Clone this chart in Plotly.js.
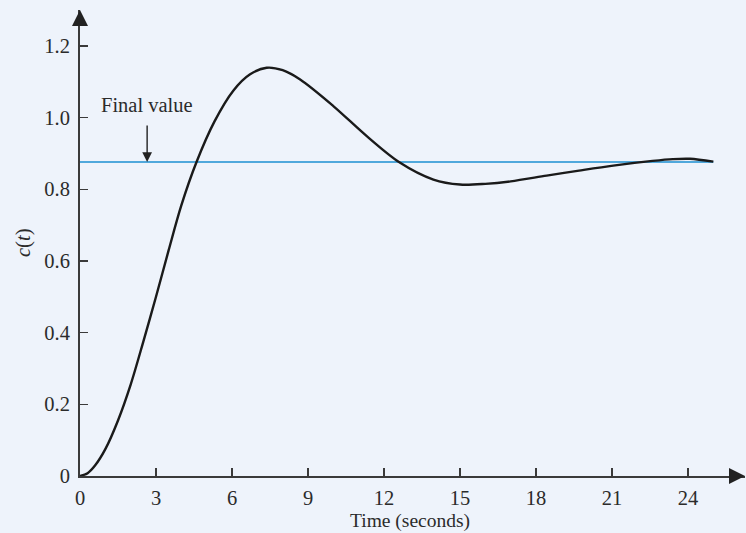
<!DOCTYPE html>
<html>
<head>
<meta charset="utf-8">
<script src="https://cdn.plot.ly/plotly-3.0.1.min.js"></script>
<style>html,body{margin:0;padding:0;background:#eef3fb;}#chart{width:746px;height:533px;}</style>
</head>
<body>
<div id="chart"></div>
<script>
// Response c(t)
const timeSec = [0, 0.3, 0.6, 1.0, 1.5, 2.0, 2.5, 3.0, 3.5, 4.0, 4.6, 5.3, 6.05, 6.7, 7.37, 8.0, 8.69, 10.0, 11.32, 12.59, 13.95, 15.0, 16.0, 17.0, 18.42, 19.7, 21.05, 22.6, 23.4, 24.08, 25];
const cValues = [0, 0.008, 0.03, 0.075, 0.155, 0.255, 0.375, 0.5, 0.63, 0.755, 0.876, 0.988, 1.075, 1.12, 1.139, 1.132, 1.106, 1.032, 0.948, 0.876, 0.827, 0.813, 0.815, 0.822, 0.838, 0.852, 0.866, 0.879, 0.884, 0.885, 0.877];
const finalValue = 0.876;
const finalX = [0, 25];
const xTicks = [0, 3, 6, 9, 12, 15, 18, 21, 24];
const xTickLabels = ["0", "3", "6", "9", "12", "15", "18", "21", "24"];
const yTicks = [0, 0.2, 0.4, 0.6, 0.8, 1.0, 1.2];
const yTickLabels = ["0", "0.2", "0.4", "0.6", "0.8", "1.0", "1.2"];

const serif = "Liberation Serif, Times New Roman, serif";
const axisColor = "#3a3a3a";
const txt = "#2b2b2b";
const fs = 20.5;

const traces = [
  {x: finalX, y: finalX.map(() => finalValue), mode: "lines", line: {color: "#1b8fd2", width: 1.6}, hoverinfo: "skip"},
  {x: timeSec, y: cValues, mode: "lines", line: {color: "#1a1a1a", width: 2.4, shape: "spline", smoothing: 0.9}, hoverinfo: "skip"}
];

const layout = {
  width: 746, height: 533,
  margin: {l: 80, r: 1, t: 10, b: 57},
  paper_bgcolor: "#eef3fb", plot_bgcolor: "#eef3fb",
  showlegend: false,
  font: {family: serif, size: fs, color: txt},
  xaxis: {
    range: [0, 26.25], tickvals: xTicks, ticktext: xTickLabels,
    ticks: "inside", ticklen: 8, tickwidth: 1.3, tickcolor: axisColor,
    showline: true, linecolor: axisColor, linewidth: 2,
    showgrid: false, zeroline: false, fixedrange: true,
    tickfont: {family: serif, size: fs, color: txt}, ticklabelstandoff: 2
  },
  yaxis: {
    range: [0, 1.3], tickvals: yTicks, ticktext: yTickLabels,
    ticks: "inside", ticklen: 8, tickwidth: 1.3, tickcolor: axisColor,
    showline: true, linecolor: axisColor, linewidth: 2,
    showgrid: false, zeroline: false, fixedrange: true,
    tickfont: {family: serif, size: fs, color: txt}, ticklabelstandoff: 4
  },
  annotations: [
    {x: 26.25, y: 0, ax: 25.7, ay: 0, axref: "x", ayref: "y", xref: "x", yref: "y", text: "", showarrow: true, arrowhead: 2, arrowsize: 2, arrowwidth: 1.6, arrowcolor: "#222"},
    {x: 0, y: 1.3, ax: 0, ay: 1.27, axref: "x", ayref: "y", xref: "x", yref: "y", text: "", showarrow: true, arrowhead: 2, arrowsize: 2, arrowwidth: 1.6, arrowcolor: "#222"},
    {x: 2.65, y: finalValue, ax: 0, ay: -38, xref: "x", yref: "y", text: "", showarrow: true, arrowhead: 2, arrowsize: 1.4, arrowwidth: 1.4, arrowcolor: "#222"},
    {x: 2.65, y: finalValue, xref: "x", yref: "y", yshift: 57, text: "Final value", showarrow: false, font: {family: serif, size: fs, color: txt}},
    {x: -57 / 665, y: 0.5, xref: "paper", yref: "paper", xanchor: "center", yanchor: "middle", text: "<i>c</i>(<i>t</i>)", textangle: -90, showarrow: false, font: {family: serif, size: fs, color: txt}},
    {x: 0.5, y: 0, xref: "paper", yref: "paper", text: "Time (seconds)", showarrow: false, yanchor: "middle", yshift: -45, xshift: -3, font: {family: serif, size: 19.5, color: txt}}
  ]
};

Plotly.newPlot("chart", traces, layout, {displayModeBar: false, staticPlot: true});
</script>
</body>
</html>
